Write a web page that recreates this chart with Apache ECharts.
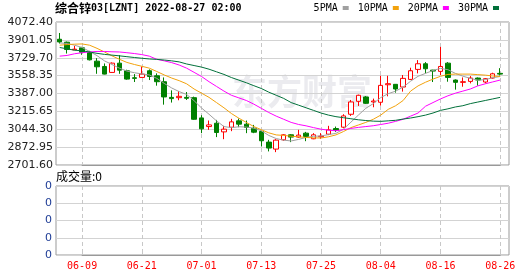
<!DOCTYPE html>
<html><head><meta charset="utf-8">
<script src="https://cdn.jsdelivr.net/npm/echarts@6/dist/echarts.min.js"></script>
<style>html,body{margin:0;padding:0;background:#fff}#c{width:530px;height:276px}</style>
</head><body><div id="c"></div>
<script>
const dates = ['06-06','06-07','06-08','06-09','06-10','06-13','06-14','06-15','06-16','06-17',
  '06-20','06-21','06-22','06-23','06-24','06-27','06-28','06-29','06-30','07-01',
  '07-04','07-05','07-06','07-07','07-08','07-11','07-12','07-13','07-14','07-15',
  '07-18','07-19','07-20','07-21','07-22','07-25','07-26','07-27','07-28','07-29',
  '08-01','08-02','08-03','08-04','08-05','08-08','08-09','08-10','08-11','08-12',
  '08-15','08-16','08-17','08-18','08-19','08-22','08-23','08-24','08-25','08-26'];
const openVals  = [3907,3879,3805,3825,3780,3697,3646,3589,3678,3605,3538,3541,3605,3557,3500,3350,3347,3350,3347,3153,
  3070,3102,3019,3064,3125,3093,3054,3023,2921,2854,2943,2991,2969,3007,2953,2972,2997,3051,3064,3188,
  3312,3354,3306,3303,3471,3475,3449,3522,3618,3672,3611,3599,3678,3516,3494,3503,3535,3497,3535,3580];
const closeVals = [3881,3809,3812,3783,3710,3643,3573,3678,3611,3525,3532,3573,3550,3500,3354,3338,3360,3341,3140,3048,
  3086,3013,3045,3115,3093,3061,3016,2934,2864,2940,2991,2969,2988,2975,2991,2978,3039,3035,3172,3306,
  3370,3293,3315,3465,3481,3430,3532,3605,3672,3624,3602,3646,3541,3494,3500,3535,3516,3529,3576,3573];
const lowVals   = [3866,3770,3805,3758,3704,3576,3570,3586,3576,3519,3497,3538,3516,3462,3280,3300,3322,3325,3134,3007,
  3039,2969,2949,3026,3064,3007,3007,2879,2832,2825,2934,2921,2962,2930,2949,2953,2988,3019,3054,3172,
  3268,3287,3255,3271,3360,3395,3405,3516,3580,3580,3497,3564,3500,3424,3452,3484,3462,3484,3529,3560];
const highVals  = [3967,3885,3844,3834,3796,3726,3675,3685,3755,3615,3573,3646,3618,3580,3541,3417,3411,3401,3357,3179,
  3128,3134,3077,3144,3147,3128,3086,3029,2943,2949,2997,2997,3039,3019,3007,3007,3077,3070,3188,3325,
  3376,3363,3338,3557,3557,3478,3564,3634,3707,3688,3614,3834,3688,3522,3541,3554,3541,3535,3586,3630];
const ma5  = [3872,3866,3850,3828,3790,3750,3700,3665,3630,3602,3586,3575,3565,3532,3484,3440,3405,3378,3318,3248,
  3188,3125,3070,3060,3068,3065,3055,3030,2985,2955,2940,2932,2947,2966,2977,2980,2993,3005,3045,3112,
  3180,3245,3290,3348,3385,3410,3448,3505,3552,3580,3608,3628,3615,3580,3553,3532,3515,3520,3538,3550];
const ma10 = [3850,3856,3860,3862,3850,3820,3785,3748,3715,3685,3665,3648,3630,3598,3565,3535,3510,3480,3430,3390,
  3350,3300,3250,3195,3150,3110,3070,3040,3010,2990,2985,2978,2972,2966,2962,2960,2972,2990,3022,3060,
  3085,3110,3140,3180,3235,3270,3320,3410,3460,3495,3525,3552,3570,3573,3573,3573,3568,3563,3555,3550];
const ma20 = [3745,3752,3768,3778,3785,3790,3790,3787,3785,3778,3770,3760,3745,3715,3700,3683,3660,3630,3590,3550,
  3500,3455,3410,3370,3345,3320,3285,3245,3205,3170,3140,3110,3090,3077,3060,3045,3035,3030,3040,3052,
  3062,3070,3078,3090,3102,3120,3140,3170,3200,3265,3300,3335,3365,3390,3410,3430,3460,3480,3498,3516];
const ma30 = [3828,3815,3802,3796,3785,3772,3762,3755,3748,3740,3732,3725,3718,3714,3708,3700,3690,3670,3655,3640,
  3620,3595,3570,3540,3515,3490,3462,3435,3400,3370,3340,3300,3275,3250,3225,3200,3180,3165,3155,3145,
  3135,3128,3122,3120,3125,3130,3142,3152,3165,3180,3200,3225,3240,3258,3270,3290,3305,3320,3335,3350];
const volumes = [0,0,0,0,0,0,0,0,0,0,0,0,0,0,0,0,0,0,0,0,0,0,0,0,0,0,0,0,0,0,
  0,0,0,0,0,0,0,0,0,0,0,0,0,0,0,0,0,0,0,0,0,0,0,0,0,0,0,0,0,0];
const priceTicks = ['2701.60','2872.95','3044.30','3215.65','3387.00','3558.35','3729.70','3901.05','4072.40'];
const volumeTicks = ['0','0','0','0','0'];
const maNames = ['5PMA','10PMA','20PMA','30PMA'];

const priceMin = parseFloat(priceTicks[0]);
const priceMax = parseFloat(priceTicks[priceTicks.length - 1]);
const labelOffset = 3;      // first labelled date (06-09) is the 4th trading day
const labelStep = 8;        // a date label every 8 trading days
const showIdx = (i) => (i - labelOffset) % labelStep === 0;
const gridDates = dates.slice(labelOffset);   // categories for the dashed vertical grid lines
const monoFont = 'DejaVu Sans Mono';
const gridGray = '#c8c8c8';

// geometry of the plotting area
const plotLeft = 59.7, plotWidth = 440.5;
const slot = plotWidth / (dates.length - 1);
const vLeft = plotLeft + labelOffset * slot;
const vWidth = (dates.length - 1 - labelOffset) * slot;

const vAxis = (gi) => ({
  gridIndex: gi, type: 'category', data: gridDates, boundaryGap: false,
  axisLine: { show: true, lineStyle: { color: '#999' } },
  axisTick: { show: true, inside: true, interval: labelStep - 1, length: 3, lineStyle: { color: gridGray } },
  axisLabel: { show: true, interval: labelStep - 1, color: 'rgba(255,255,255,0)', fontSize: 10 },
  splitLine: { show: true, interval: labelStep - 1, lineStyle: { color: gridGray, width: 1, type: [4, 3] } }
});

const chart = echarts.init(document.getElementById('c'));
chart.setOption({
  animation: false,
  title: {
    text: '{c|综合锌}{m|03[LZNT] 2022-08-27 02:00}',
    left: 55, top: 2, padding: 0,
    textStyle: { rich: {
      c: { fontFamily: 'Noto Sans CJK SC', fontSize: 12, color: '#000' },
      m: { fontFamily: monoFont, fontSize: 10, color: '#000' }
    } }
  },
  legend: {
    data: maNames, right: 31, top: 3, padding: 0, align: 'right', icon: 'rect',
    itemWidth: 6, itemHeight: 4, itemGap: 9,
    textStyle: { fontFamily: monoFont, fontSize: 10, color: '#000' }
  },
  graphic: [
    { type: 'text', left: 232, top: 74, silent: true, z: 0,
      style: { text: '东方财富', font: 'bold 35px "Noto Sans CJK SC"', fill: '#ebebef' } },
    { type: 'text', left: 56, top: 170, silent: true,
      style: { text: '成交量:0', font: '12px "Noto Sans CJK SC"', fill: '#000' } }
  ],
  grid: [
    { left: 56, top: 22, width: 453, height: 143, show: true, borderColor: '#999', borderWidth: 1 },
    { left: plotLeft, top: 22, width: plotWidth, height: 143 },
    { left: 56, top: 186, width: 453, height: 69, show: true, borderColor: '#999', borderWidth: 1 },
    { left: plotLeft, top: 186, width: plotWidth, height: 69 },
    { left: vLeft, top: 22, width: vWidth, height: 143 },
    { left: vLeft, top: 186, width: vWidth, height: 69 }
  ],
  xAxis: [
    { gridIndex: 0, type: 'value', min: 0, max: 1, show: false },
    { gridIndex: 1, type: 'category', data: dates, boundaryGap: false,
      axisLine: { show: false }, axisTick: { show: false }, axisLabel: { show: false }, splitLine: { show: false } },
    { gridIndex: 2, type: 'value', min: 0, max: 1, show: false },
    { gridIndex: 3, type: 'category', data: dates, boundaryGap: false,
      axisLine: { show: false }, axisTick: { show: false },
      axisLabel: { interval: showIdx, color: '#ff0000', fontFamily: monoFont, fontSize: 10, margin: 6 },
      splitLine: { show: false } },
    vAxis(4),
    vAxis(5)
  ],
  yAxis: [
    { gridIndex: 0, type: 'value', min: 0, max: priceTicks.length - 1, interval: 1,
      axisLine: { show: false }, axisTick: { show: false },
      axisLabel: { formatter: (v) => priceTicks[v], color: '#222', fontFamily: 'DejaVu Sans', fontSize: 11, margin: 3 },
      splitLine: { lineStyle: { color: '#d3d3d3', width: 1 } } },
    { gridIndex: 1, type: 'value', min: priceMin, max: priceMax, show: false },
    { gridIndex: 2, type: 'value', min: 0, max: volumeTicks.length - 1, interval: 1,
      axisLine: { show: false }, axisTick: { show: false },
      axisLabel: { formatter: (v) => volumeTicks[v], color: '#1e3c96', fontFamily: 'DejaVu Sans', fontSize: 11, margin: 4 },
      splitLine: { lineStyle: { color: '#d3d3d3', width: 1 } } },
    { gridIndex: 3, type: 'value', min: 0, max: 1, show: false },
    { gridIndex: 4, type: 'value', min: 0, max: 1, show: false },
    { gridIndex: 5, type: 'value', min: 0, max: 1, show: false }
  ],
  series: [
    { type: 'candlestick', name: 'K', xAxisIndex: 1, yAxisIndex: 1, barWidth: 5, clip: false, z: 3,
      data: dates.map((d, i) => [openVals[i], closeVals[i], lowVals[i], highVals[i]]),
      itemStyle: { color: '#ffffff', color0: '#008000', borderColor: '#ff0000', borderColor0: '#008000', borderWidth: 1 } },
    { type: 'line', name: maNames[0], xAxisIndex: 1, yAxisIndex: 1, data: ma5, symbol: 'none', clip: false, z: 4,
      color: '#a0a0a0', lineStyle: { width: 1, color: '#a0a0a0' } },
    { type: 'line', name: maNames[1], xAxisIndex: 1, yAxisIndex: 1, data: ma10, symbol: 'none', clip: false, z: 4,
      color: '#f2a20c', lineStyle: { width: 1, color: '#f2a20c' } },
    { type: 'line', name: maNames[2], xAxisIndex: 1, yAxisIndex: 1, data: ma20, symbol: 'none', clip: false, z: 4,
      color: '#ff00ff', lineStyle: { width: 1, color: '#ff00ff' } },
    { type: 'line', name: maNames[3], xAxisIndex: 1, yAxisIndex: 1, data: ma30, symbol: 'none', clip: false, z: 4,
      color: '#00703a', lineStyle: { width: 1, color: '#00703a' } },
    { type: 'bar', name: '成交量', xAxisIndex: 3, yAxisIndex: 3, data: volumes, barWidth: 5,
      itemStyle: { color: '#008000' } }
  ]
});
</script></body></html>
